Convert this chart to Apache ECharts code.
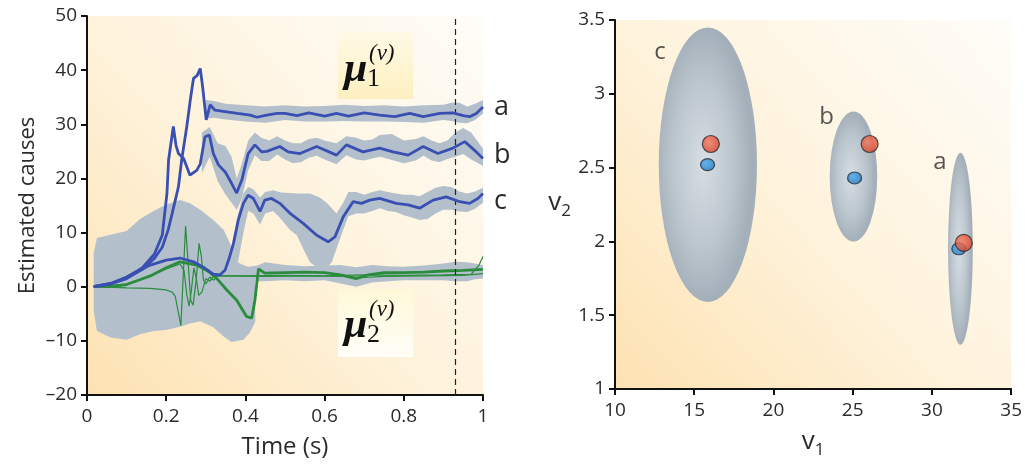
<!DOCTYPE html>
<html>
<head>
<meta charset="utf-8">
<script src="https://cdn.jsdelivr.net/npm/echarts@6/dist/echarts.min.js"></script>
<style>
html,body{margin:0;padding:0;background:#ffffff;}
#main{width:1025px;height:464px;}
</style>
</head>
<body>
<div id="main"></div>
<script>
// ---------- Left panel data: estimated causes over time ----------
const aT = [0.017,0.06,0.1,0.14,0.17,0.19,0.205,0.215,0.223,0.231,0.239,0.252,0.262,0.269,0.278,0.286,0.292,0.301,0.311,0.323,0.353,0.38,0.412,0.429,0.454,0.48,0.5,0.53,0.56,0.6,0.63,0.66,0.7,0.739,0.777,0.815,0.849,0.891,0.924,0.95,0.966,0.983,1.0];
const aV = [0,0.5,1.5,3.2,5.2,7.3,10.5,13.5,16,18.5,23.4,29.6,35.1,38.5,39,40.3,36.9,30.8,33.6,32.6,32.3,32.0,31.7,31.3,31.7,32.0,32.0,31.6,32.1,31.5,32.0,31.5,32.1,31.7,31.4,32.0,31.4,32.0,32.1,31.6,31.4,32.0,33.2];

const bT = [0.017,0.06,0.1,0.14,0.17,0.19,0.202,0.206,0.218,0.225,0.231,0.244,0.26,0.277,0.286,0.298,0.309,0.319,0.332,0.349,0.365,0.378,0.391,0.407,0.424,0.441,0.454,0.487,0.508,0.538,0.58,0.63,0.655,0.697,0.739,0.773,0.811,0.849,0.886,0.924,0.954,0.983,1.0];
const bV = [0,0.6,1.7,3.5,6,9.5,17.3,23.4,29.6,26,24.6,23.7,20.6,21.5,22.7,27.7,28.0,24.6,22.5,21.2,19.1,17.3,19.7,24.6,26.2,24.9,25,25.9,24.9,24.6,25.9,24.3,26.2,24.9,25.6,24.9,24.3,25.9,24.6,25.6,26.8,24.9,23.7];

const cT = [0.017,0.06,0.1,0.16,0.2,0.235,0.269,0.298,0.319,0.336,0.349,0.36,0.37,0.382,0.395,0.407,0.42,0.437,0.449,0.466,0.487,0.512,0.546,0.58,0.609,0.626,0.647,0.672,0.693,0.714,0.739,0.781,0.811,0.84,0.874,0.907,0.941,0.966,0.987,1.0];
const cV = [0,0.6,1.8,4.0,4.9,5.3,4.6,3.4,2.3,2.2,3.1,5.5,8.0,12.3,15.4,16.9,16.3,13.9,16.0,16.3,15.4,13.6,11.7,9.5,8.3,9.2,12.9,15.7,15.4,16.0,16.3,15.4,15.1,14.5,16.0,16.6,15.7,15.4,16.3,17.2];

const gT = [0.017,0.06,0.1,0.13,0.16,0.2,0.235,0.277,0.307,0.328,0.353,0.378,0.403,0.416,0.424,0.433,0.449,0.5,0.55,0.6,0.64,0.68,0.71,0.75,0.8,0.85,0.9,0.95,1.0];
const gV = [0,0,0.4,1.2,2.0,3.5,4.6,4.0,2.8,1.5,-0.6,-2.5,-5.5,-5.8,-2.5,3.3,2.5,2.6,2.7,2.6,2.2,1.5,2.2,2.6,2.6,2.7,2.9,3.0,3.2];

const gAT = [0.017,0.1,0.16,0.2,0.215,0.223,0.231,0.237,0.243,0.249,0.256,0.262,0.268,0.276,0.283,0.289,0.294,0.3,0.31,0.32,0.33,0.4,0.5,0.6,0.7,0.8,0.9,0.97,0.99,1.0];
const gAV = [0,-0.2,-0.3,-0.6,-1.0,-1.8,-4.9,-7.2,2,11.2,3.7,-2.5,-3.4,1.5,8.0,5.5,1.2,0.5,1.8,1.2,2.0,2.0,2.1,2.0,2.2,2.1,2.2,2.3,4.0,5.6];

const gBT = [0.017,0.1,0.16,0.2,0.235,0.245,0.252,0.258,0.263,0.27,0.276,0.282,0.29,0.3,0.31,0.32,0.35,0.45,0.55,0.65,0.7,0.75,0.85,0.95,1.0];
const gBV = [0,0.5,2.0,3.3,4.2,3.0,-1.5,-3.6,-1.0,3.5,1.5,-1.6,-1.0,1.5,1.0,2.0,2.0,1.9,2.0,1.9,1.7,1.9,2.0,2.1,2.4];

// uncertainty bands (time, lower, upper)
const bigT = [0.017,0.025,0.059,0.1,0.134,0.168,0.2,0.235,0.26,0.286,0.319,0.345,0.365,0.38,0.395,0.41,0.425];
const bigU = [6.2,9.0,9.6,10.3,12.5,14,15.2,16,15.4,14.2,12.3,10.5,7.4,4.5,4,3.6,2.5];
const bigL = [-4.5,-8.2,-9.4,-9.8,-8.8,-8.2,-8.0,-7.4,-6.8,-6.4,-7.5,-9.2,-10.2,-10.0,-9.8,-8.6,-6.5];

const cbT = [0.35,0.365,0.38,0.395,0.407,0.42,0.437,0.45,0.47,0.49,0.512,0.53,0.546,0.563,0.588,0.605,0.618,0.63,0.647,0.66,0.68,0.7,0.72,0.74,0.76,0.78,0.8,0.82,0.84,0.86,0.88,0.9,0.92,0.94,0.96,0.98,1.0];
const cbU = [4,7.5,13,17.2,18.4,18,16.5,17.5,17.8,17.4,17.3,17.2,17.2,17.2,16.5,15.5,14.5,13.5,15.5,17.5,17.5,17,17.5,17.8,17.5,17.2,17,17,16.7,17.5,18.3,18.6,18.4,17.6,17.2,17.6,18.3];
const cbL = [0.5,1.5,4,10,14,13.5,11.5,13.5,14,12.5,10.5,9.5,7,4.5,3.2,3.5,4.5,7,10.5,13,13.5,13.5,14,14.5,14,13.8,13.2,12.8,12.3,12.5,13.5,14.2,14.2,13.9,13.8,14.4,15.5];

const bbT = [0.29,0.31,0.33,0.35,0.365,0.378,0.39,0.407,0.424,0.44,0.46,0.48,0.5,0.52,0.54,0.56,0.58,0.6,0.63,0.655,0.68,0.7,0.72,0.74,0.77,0.8,0.83,0.85,0.87,0.89,0.91,0.93,0.95,0.97,0.99,1.0];
const bbU = [28.5,29.5,26.5,26,24,20,22.5,27,28.5,27.5,27,27.8,27,26.5,26.5,27.3,27.5,27,26.5,27.8,27.5,27,27.2,28,28.2,27,27.3,27.8,27,26.5,27,28.5,29.3,28.5,26.5,25.5];
const bbL = [21,24,19.5,17,15.5,14.2,16,21.5,24.3,23.2,23.2,24.4,23.5,22.8,23,23.8,24.2,23.5,22.6,24.3,23.5,23.3,23.7,24,23.4,22.8,23.3,24.2,23.3,23,23.6,24,24.5,23.5,22.7,22.3];

const abT = [0.3,0.32,0.35,0.4,0.45,0.5,0.55,0.6,0.65,0.7,0.75,0.8,0.85,0.9,0.92,0.94,0.96,0.98,1.0];
const abU = [34.5,34.3,33.8,33.5,33.3,33.5,33.3,33.4,33.6,33.4,33.5,33.3,33.5,33.6,34.0,34.0,33.3,33.8,34.5];
const abL = [31.0,31.2,30.9,30.5,30.3,30.8,30.5,30.5,30.6,30.5,30.5,30.4,30.3,30.8,30.6,30.3,30.2,30.8,32.0];

const gbT = [0.37,0.4,0.43,0.45,0.5,0.55,0.6,0.64,0.68,0.72,0.76,0.8,0.85,0.9,0.93,0.96,0.98,1.0];
const gbU = [3.8,3.6,3.9,4.5,4.0,3.8,3.9,4.0,3.6,4.0,3.8,3.7,3.9,4.3,4.6,4.5,4.3,4.0];
const gbL = [1.3,1.2,1.0,1.0,1.2,1.0,1.2,0.6,0.0,0.8,1.0,1.2,1.2,1.2,1.0,1.0,1.4,1.5];

const dashT = 0.932;

// ---------- Right panel data: v1 / v2 ----------
const ellNames = ['a','b','c'];
const ellCx = [31.8, 25.05, 15.86];
const ellCy = [1.95, 2.44, 2.52];
const ellRx = [0.78, 1.5, 3.1];
const ellRy = [0.65, 0.44, 0.93];
const redX = [32.01, 26.07, 16.05];
const redY = [1.99, 2.66, 2.66];
const blueX = [31.7, 25.12, 15.84];
const blueY = [1.95, 2.43, 2.52];
const lblX = [30.5, 23.35, 12.84];
const lblY = [2.54, 2.84, 3.28];

// ---------- helpers ----------
const zip = (T, V) => T.map((t, i) => [t, V[i]]);
const FONT = 'Open Sans';
const TXT = '#2b2b2b';
const BAND = '#b3c0cb';
const BLUE = '#3a4fb2';
const GREEN = '#2a8c3c';

function bandSeries(T, L, U) {
  return {
    type: 'custom', xAxisIndex: 0, yAxisIndex: 0, z: 1, silent: true,
    data: T.map((t, i) => [t, L[i], U[i]]),
    encode: { x: 0, y: [1, 2] },
    renderItem: function (params, api) {
      if (params.dataIndex !== 0) return null;
      const pts = [];
      for (let i = 0; i < T.length; i++) pts.push(api.coord([T[i], U[i]]));
      for (let i = T.length - 1; i >= 0; i--) pts.push(api.coord([T[i], L[i]]));
      return { type: 'polygon', shape: { points: pts }, style: { fill: BAND } };
    }
  };
}

function lineSeries(name, T, V, color, width, z, label) {
  const s = {
    name: name, type: 'line', xAxisIndex: 0, yAxisIndex: 0, z: z,
    data: zip(T, V), showSymbol: false, symbol: 'none', smooth: false, silent: true,
    lineStyle: { color: color, width: width }
  };
  if (label) {
    s.endLabel = { show: true, formatter: '{a}', distance: 11, fontFamily: FONT, fontSize: 27, color: TXT, offset: label };
  }
  return s;
}

const bgGrad = () => new echarts.graphic.LinearGradient(0, 1, 1, 0, [
  { offset: 0, color: '#fde2b2' },
  { offset: 0.45, color: '#fef2da' },
  { offset: 1, color: '#fffdf9' }
]);

const axisCommon = {
  axisLine: { show: true, onZero: false, lineStyle: { color: '#111', width: 2 } },
  axisTick: { show: true, inside: false, length: 6, lineStyle: { color: '#111', width: 2 } },
  splitLine: { show: false },
  axisLabel: { fontFamily: FONT, fontSize: 19, color: TXT }
};

const chart = echarts.init(document.getElementById('main'), null, { renderer: 'canvas' });

const option = {
  animation: false,
  backgroundColor: '#ffffff',
  grid: [
    { left: 87, right: 542, top: 16, bottom: 69, show: true, borderWidth: 0, backgroundColor: bgGrad() },
    { left: 615, right: 13, top: 20, bottom: 71, show: true, borderWidth: 0, backgroundColor: bgGrad() }
  ],
  xAxis: [
    Object.assign({}, axisCommon, {
      type: 'value', gridIndex: 0, min: 0, max: 1, interval: 0.2,
      name: 'Time (s)', nameLocation: 'middle', nameGap: 40,
      nameTextStyle: { fontFamily: FONT, fontSize: 24, color: TXT },
      axisLabel: Object.assign({}, axisCommon.axisLabel, { margin: 12, formatter: v => String(+v.toFixed(1)) })
    }),
    Object.assign({}, axisCommon, {
      type: 'value', gridIndex: 1, min: 10, max: 35, interval: 5,
      name: '{v|v}{s|1}', nameLocation: 'middle', nameGap: 40,
      nameTextStyle: { rich: {
        v: { fontFamily: FONT, fontSize: 26, color: TXT, lineHeight: 30, verticalAlign: 'top' },
        s: { fontFamily: FONT, fontSize: 17, color: TXT, lineHeight: 17, verticalAlign: 'bottom' }
      } },
      axisLabel: Object.assign({}, axisCommon.axisLabel, { margin: 12 })
    })
  ],
  yAxis: [
    Object.assign({}, axisCommon, {
      type: 'value', gridIndex: 0, min: -20, max: 50, interval: 10,
      name: 'Estimated causes', nameLocation: 'middle', nameGap: 48,
      nameTextStyle: { fontFamily: FONT, fontSize: 22, color: TXT },
      axisLabel: Object.assign({}, axisCommon.axisLabel, { margin: 10, formatter: v => v < 0 ? '\u2013' + Math.abs(v) : String(v) })
    }),
    Object.assign({}, axisCommon, {
      type: 'value', gridIndex: 1, min: 1, max: 3.5, interval: 0.5,
      name: '{v|v}{s|2}', nameLocation: 'middle', nameGap: 44, nameRotate: 0,
      nameTextStyle: { align: 'right', rich: {
        v: { fontFamily: FONT, fontSize: 26, color: TXT, lineHeight: 30, verticalAlign: 'top' },
        s: { fontFamily: FONT, fontSize: 17, color: TXT, lineHeight: 17, verticalAlign: 'bottom' }
      } },
      axisLabel: Object.assign({}, axisCommon.axisLabel, { margin: 10 })
    })
  ],
  series: [
    bandSeries(bigT, bigL, bigU),
    bandSeries(cbT, cbL, cbU),
    bandSeries(bbT, bbL, bbU),
    bandSeries(abT, abL, abU),
    bandSeries(gbT, gbL, gbU),
    lineSeries('gA', gAT, gAV, GREEN, 1.2, 3),
    lineSeries('gB', gBT, gBV, GREEN, 1.2, 3),
    lineSeries('g', gT, gV, GREEN, 2.8, 4),
    lineSeries('c', cT, cV, BLUE, 2.8, 5, [0, 8]),
    lineSeries('b', bT, bV, BLUE, 2.8, 5, [0, -3]),
    Object.assign(lineSeries('a', aT, aV, BLUE, 2.8, 5, [0, 0]), {
      markLine: {
        silent: true, symbol: 'none', label: { show: false },
        lineStyle: { color: '#222', width: 1.2, type: [6, 4] },
        data: [{ xAxis: dashT }]
      }
    }),
    // ellipses
    {
      type: 'custom', xAxisIndex: 1, yAxisIndex: 1, z: 2, silent: true,
      data: ellCx.map((x, i) => [x, ellCy[i], ellRx[i], ellRy[i]]),
      encode: { x: 0, y: 1 },
      renderItem: function (params, api) {
        const c = api.coord([api.value(0), api.value(1)]);
        const s = api.size([api.value(2), api.value(3)]);
        return {
          type: 'circle', x: c[0], y: c[1], scaleX: 1, scaleY: s[1] / s[0],
          shape: { cx: 0, cy: 0, r: s[0] },
          style: { fill: new echarts.graphic.RadialGradient(0.45, 0.5, 0.5, [
            { offset: 0, color: '#d7dee4' },
            { offset: 0.6, color: '#bcc6ce' },
            { offset: 1, color: '#a3afb9' }
          ]) }
        };
      }
    },
    {
      type: 'scatter', xAxisIndex: 1, yAxisIndex: 1, z: 4, silent: true,
      data: zip(blueX, blueY), symbol: 'circle', symbolSize: [14, 12],
      itemStyle: { color: new echarts.graphic.RadialGradient(0.4, 0.4, 0.6, [
        { offset: 0, color: '#4aa6ea' }, { offset: 1, color: '#1f7cc6' }]),
        borderColor: '#2a2a33', borderWidth: 1.2 }
    },
    {
      type: 'scatter', xAxisIndex: 1, yAxisIndex: 1, z: 5, silent: true,
      data: zip(redX, redY), symbol: 'circle', symbolSize: 17,
      itemStyle: { color: new echarts.graphic.RadialGradient(0.4, 0.4, 0.6, [
        { offset: 0, color: '#f47c5e' }, { offset: 1, color: '#dc4429' }]),
        borderColor: '#2a2a2a', borderWidth: 1.2 }
    },
    {
      type: 'scatter', xAxisIndex: 1, yAxisIndex: 1, z: 6, silent: true,
      data: lblX.map((x, i) => ({ value: [x, lblY[i]], name: ellNames[i] })),
      symbolSize: 0,
      label: { show: true, position: 'inside', formatter: '{b}', fontFamily: FONT, fontSize: 24, color: TXT }
    }
  ],
  graphic: [
    { type: 'rect', left: 338, top: 32, z: 10, shape: { width: 75, height: 67 },
      style: { fill: new echarts.graphic.LinearGradient(0, 0, 0, 1, [
        { offset: 0, color: '#fffae6' }, { offset: 1, color: '#fdefc0' }]) } },
    { type: 'rect', left: 338, top: 289, z: 10, shape: { width: 75, height: 68 },
      style: { fill: new echarts.graphic.LinearGradient(0, 0, 0, 1, [
        { offset: 0, color: '#fff8d8' }, { offset: 1, color: '#fffef8' }]) } },
    { type: 'text', x: 344, y: 70, z: 11, style: { text: '\u03bc', font: 'italic bold 42px "Liberation Serif"', fill: '#111', verticalAlign: 'middle' } },
    { type: 'text', x: 367, y: 79, z: 11, style: { text: '1', font: '26px "Liberation Serif"', fill: '#111', verticalAlign: 'middle' } },
    { type: 'text', x: 369, y: 54, z: 11, style: { text: '(\u03bd)', font: 'italic 23px "Liberation Serif"', fill: '#111', verticalAlign: 'middle' } },
    { type: 'text', x: 344, y: 326, z: 11, style: { text: '\u03bc', font: 'italic bold 42px "Liberation Serif"', fill: '#111', verticalAlign: 'middle' } },
    { type: 'text', x: 367, y: 335, z: 11, style: { text: '2', font: '26px "Liberation Serif"', fill: '#111', verticalAlign: 'middle' } },
    { type: 'text', x: 369, y: 310, z: 11, style: { text: '(\u03bd)', font: 'italic 23px "Liberation Serif"', fill: '#111', verticalAlign: 'middle' } }
  ]
};

chart.setOption(option);
</script>
</body>
</html>
